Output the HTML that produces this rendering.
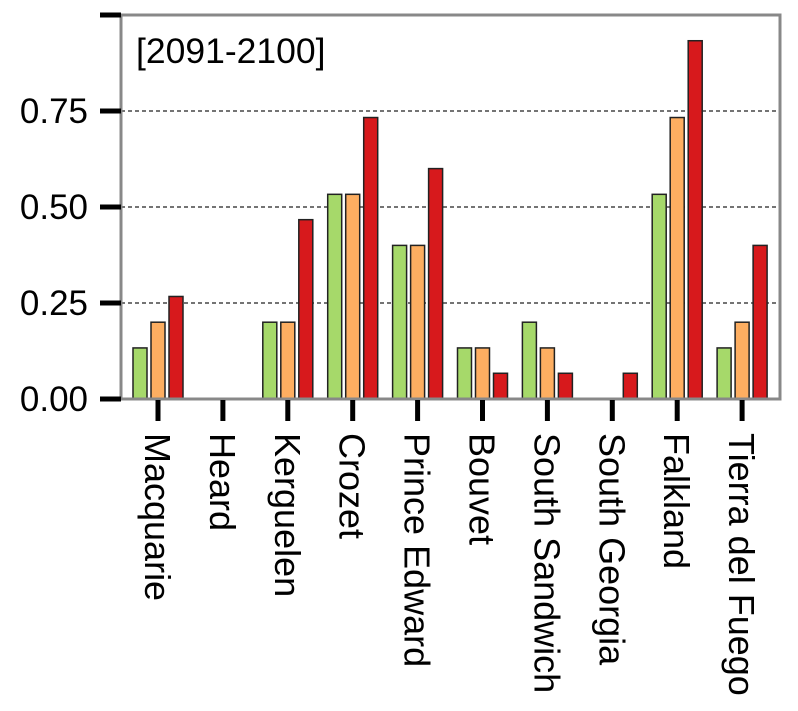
<!DOCTYPE html>
<html><head><meta charset="utf-8"><style>
body{margin:0;background:#fff;}
svg text{font-family:"Liberation Sans",Arial,sans-serif;fill:#000;}
</style></head><body>
<svg id="chart" width="798" height="706" xmlns="http://www.w3.org/2000/svg">
<g id="grid"></g>
<g id="bars"></g>
<rect x="121" y="15" width="659" height="384" fill="none" stroke="#888" stroke-width="3"/>
<g id="axes"></g>
<text x="136" y="63" font-size="35.5">[2091-2100]</text>
</svg>
<script>
const categories=["Macquarie","Heard","Kerguelen","Crozet","Prince Edward","Bouvet","South Sandwich","South Georgia","Falkland","Tierra del Fuego"];
const seriesGreen=[0.133,0,0.2,0.533,0.4,0.133,0.2,0,0.533,0.133];
const seriesOrange=[0.2,0,0.2,0.533,0.4,0.133,0.133,0,0.733,0.2];
const seriesRed=[0.267,0,0.467,0.733,0.6,0.067,0.067,0.067,0.933,0.4];
const yTicks=[0,0.25,0.5,0.75,1.0];
const yTickLabels=["0.00","0.25","0.50","0.75",""];
const NS="http://www.w3.org/2000/svg";
const y0=399,yTop=15,yMax=1.0;
function yScale(v){return y0-(v/yMax)*(y0-yTop);}
function xScale(i){return 158+i*64.9;}
function mk(tag,attrs,parent){const e=document.createElementNS(NS,tag);for(const k in attrs)e.setAttribute(k,attrs[k]);parent.appendChild(e);return e;}
const grid=document.getElementById('grid'),bars=document.getElementById('bars'),axes=document.getElementById('axes');
yTicks.forEach((t,i)=>{
  const y=yScale(t);
  if(t>0&&t<yMax){const l=mk('line',{x1:121,x2:780,y1:y,y2:y,stroke:'#222','stroke-width':1.3,'stroke-dasharray':'4,3'},grid);
    
    }
  const tk=mk('line',{x1:100,x2:121,y1:y,y2:y,stroke:'#000','stroke-width':5},axes);
  
  
  if(yTickLabels[i]){const tx=mk('text',{x:88,y:y+12,'text-anchor':'end','font-size':35},axes);tx.textContent=yTickLabels[i];
    
    }
});
const series=[[seriesGreen,'#a6d96a',-18],[seriesOrange,'#fdae61',0],[seriesRed,'#d7191c',18]];
categories.forEach((c,i)=>{
  const cx=xScale(i);
  series.forEach(([vals,col,off])=>{
    const v=vals[i]; if(v<=0)return;
    const b=mk('rect',{x:cx+off-7,y:yScale(v),width:14,height:y0-yScale(v),fill:col,stroke:'#222','stroke-width':1.5},bars);
    
    
  });
  const tk=mk('line',{x1:cx,x2:cx,y1:400,y2:421,stroke:'#000','stroke-width':5},axes);
  
  
  const tx=mk('text',{x:0,y:0,'font-size':36,transform:'translate('+(cx-13)+',433) rotate(90)'},axes);
  tx.textContent=c;
  
  
});
</script>
</body></html>
